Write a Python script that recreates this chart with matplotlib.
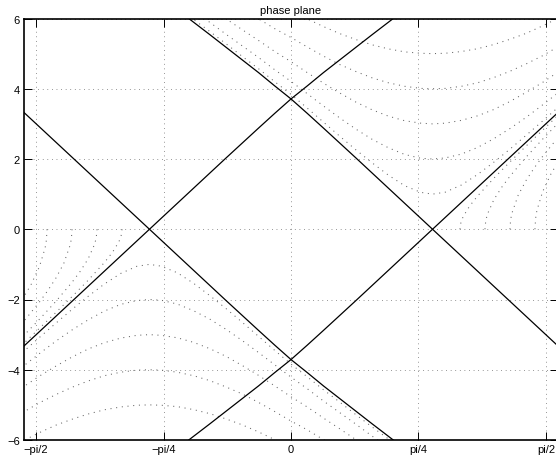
import numpy as np
import matplotlib
matplotlib.use("Agg")
import matplotlib.pyplot as plt

plt.rcParams['font.family'] = ['Liberation Sans', 'DejaVu Sans']

# separatrix through the right saddle (upper left -> lower right)
sep_x = [-0.65, -0.63, -0.5, -0.4, -0.3, -0.2, -0.1, 0.0, 0.1, 0.2, 0.3, 0.4,
         0.5, 0.6, 0.7, 0.8, 0.872, 1.0, 1.2, 1.4, 1.65]
sep_y = [6.07, 6.0, 5.54, 5.18, 4.82, 4.46, 4.08, 3.71, 3.30, 2.88, 2.455, 2.03,
         1.60, 1.17, 0.74, 0.31, 0.0, -0.55, -1.41, -2.27, -3.345]

# trajectories above the right saddle (minimum at y = 1..5)
u_x = [-0.65, -0.6, -0.5, -0.4, -0.3, -0.2, -0.1, 0.0, 0.1, 0.2, 0.3, 0.4, 0.5,
       0.6, 0.7, 0.8, 0.872, 0.95, 1.05, 1.15, 1.25, 1.35, 1.45, 1.55, 1.65]
u1 = [6.15, 5.97, 5.63, 5.28, 4.92, 4.57, 4.20, 3.84, 3.45, 3.05, 2.65, 2.26, 1.89,
      1.54, 1.24, 1.05, 1.0, 1.055, 1.26, 1.56, 1.91, 2.285, 2.68, 3.08, 3.49]
u2 = [6.39, 6.22, 5.89, 5.55, 5.22, 4.89, 4.54, 4.21, 3.86, 3.51, 3.17, 2.85, 2.56,
      2.32, 2.13, 2.02, 2.0, 2.03, 2.14, 2.33, 2.58, 2.87, 3.19, 3.54, 3.90]
u3 = [6.77, 6.61, 6.30, 5.99, 5.68, 5.375, 5.06, 4.77, 4.46, 4.16, 3.88, 3.62, 3.40,
      3.22, 3.09, 3.02, 3.0, 3.02, 3.10, 3.23, 3.41, 3.64, 3.90, 4.18, 4.49]
u4 = [7.27, 7.05, 6.83, 6.54, 6.26, 5.99, 5.71, 5.46, 5.19, 4.93, 4.69, 4.49, 4.31,
      4.17, 4.07, 4.01, 4.0, 4.01, 4.07, 4.17, 4.32, 4.50, 4.71, 4.94, 5.21]
u5 = [7.87, 7.73, 7.47, 7.2, 6.94, 6.69, 6.46, 6.23, 5.99, 5.77, 5.57, 5.40, 5.25,
      5.135, 5.05, 5.01, 5.0, 5.01, 5.06, 5.14, 5.26, 5.41, 5.58, 5.79, 6.02]

# trajectories starting on y = 0 right of the saddle
r1_x = [1.041, 1.045, 1.06, 1.1, 1.15, 1.25, 1.35, 1.45, 1.55, 1.65]
r1_y = [0.0, 0.158, 0.354, 0.658, 0.949, 1.453, 1.922, 2.376, 2.82, 3.265]
r2_x = [1.195, 1.2, 1.21, 1.25, 1.3, 1.35, 1.45, 1.55, 1.65]
r2_y = [0.0, 0.245, 0.428, 0.844, 1.207, 1.515, 2.061, 2.563, 3.043]
r3_x = [1.349, 1.353, 1.36, 1.4, 1.45, 1.5, 1.55, 1.65]
r3_y = [0.0, 0.267, 0.443, 0.973, 1.403, 1.756, 2.072, 2.642]
r4_x = [1.503, 1.507, 1.515, 1.55, 1.6, 1.65]
r4_y = [0.0, 0.31, 0.534, 1.066, 1.561, 1.957]

xticks = [-np.pi/2, -np.pi/4, 0, np.pi/4, np.pi/2]
xticklabels = ['\u2212pi/2', '\u2212pi/4', '0', 'pi/4', 'pi/2']
yticks = [-6, -4, -2, 0, 2, 4, 6]
yticklabels = ['\u22126', '\u22124', '\u22122', '0', '2', '4', '6']

fig = plt.figure(figsize=(5.56, 4.64), dpi=100)
ax = fig.add_axes([24/556, 23/464, 534/556, 421.5/464])

dot = dict(color='0.4', linewidth=0.75, linestyle=(0, (1, 4.5)))

# the system is point symmetric: (x, y) -> (-x, -y)
ux = np.array(u_x)
for u in [u1, u2, u3, u4, u5]:
    u = np.array(u)
    ax.plot(ux, u, **dot)
    ax.plot(-ux, -u, **dot)
for rx, ry in [(r1_x, r1_y), (r2_x, r2_y), (r3_x, r3_y), (r4_x, r4_y)]:
    rx, ry = np.array(rx), np.array(ry)
    ax.plot(rx, ry, **dot)
    ax.plot(-rx, -ry, **dot)

sx, sy = np.array(sep_x), np.array(sep_y)
for a, b in [(1, 1), (-1, 1), (-1, -1), (1, -1)]:
    ax.plot(a * sx, b * sy, color='k', linewidth=0.9)

ax.set_xlim(-1.645, 1.645)
ax.set_ylim(-6, 6)
ax.set_xticks(xticks)
ax.set_xticklabels(xticklabels)
ax.set_yticks(yticks)
ax.set_yticklabels(yticklabels)
ax.tick_params(direction='in', top=True, right=True, length=5.5, width=0.7,
               labelsize=8, pad=3)
ax.grid(True, color='0.35', linewidth=0.55, linestyle=(0, (1, 5)))
for s in ax.spines.values():
    s.set_linewidth(1.2)
ax.set_title('phase plane', fontsize=8, pad=4)

fig.savefig('out.png', dpi=100)
